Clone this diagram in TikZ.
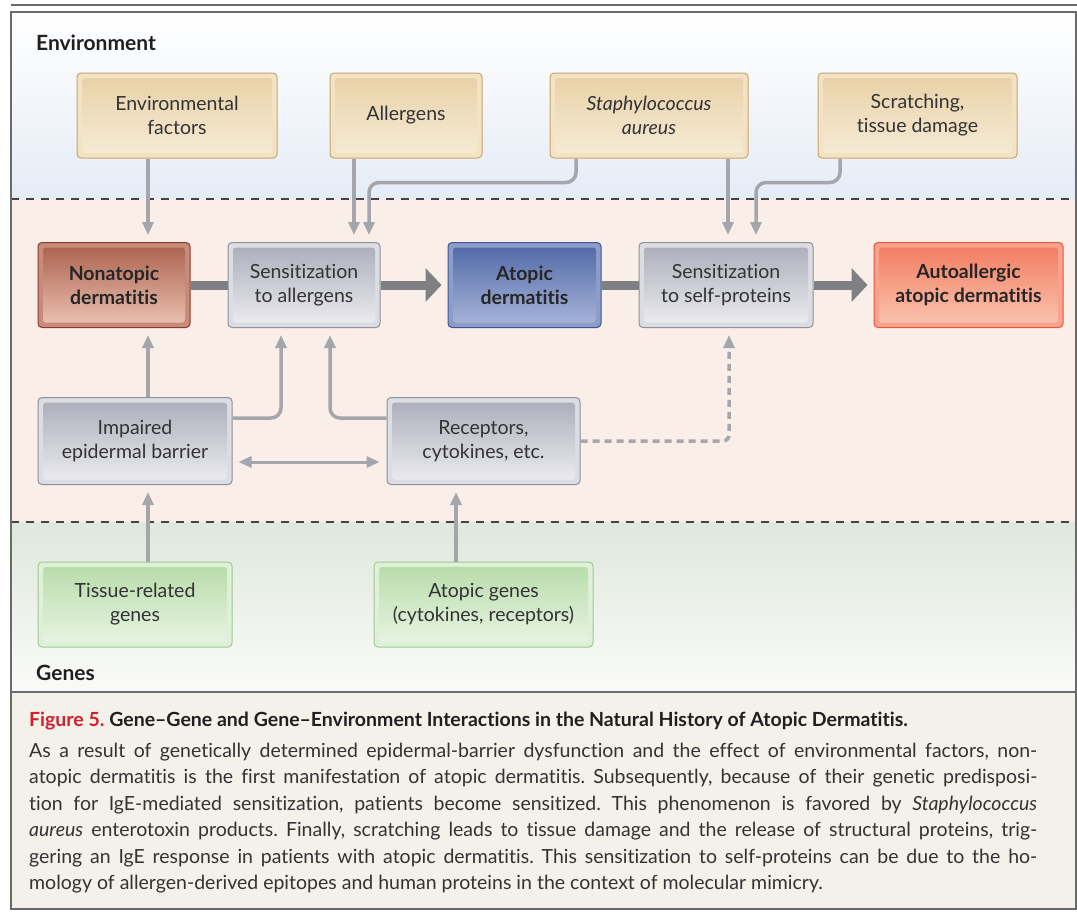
\documentclass[tikz,border=0pt]{standalone}
\usepackage{fontspec}
\setmainfont{Lato}[Ligatures=NoCommon]
\usepackage{xcolor}
\usetikzlibrary{arrows.meta}
\frenchspacing

\definecolor{textgray}{HTML}{333333}
\definecolor{linkgray}{HTML}{A4A6AB}
\definecolor{bargray}{HTML}{7F8083}
\definecolor{framegray}{HTML}{6A6A6A}
\definecolor{dashgray}{HTML}{444444}
\definecolor{envblue}{HTML}{E5ECF6}
\definecolor{midpink}{HTML}{F9EEE8}
\definecolor{genegreen}{HTML}{DEE8DC}
\definecolor{geneend}{HTML}{FAFBF9}
\definecolor{capbeige}{HTML}{F4F1EB}
\definecolor{figred}{HTML}{D0202E}
% box colours: line, outer, inner top, inner bottom
\definecolor{tanline}{HTML}{C9A56B}
\definecolor{tanout}{HTML}{F3E3C4}
\definecolor{tantop}{HTML}{E8D0A5}
\definecolor{tanbot}{HTML}{F6ECD8}
\definecolor{grayline}{HTML}{8D919B}
\definecolor{grayout}{HTML}{DCDDE3}
\definecolor{graytop}{HTML}{A9ACB8}
\definecolor{graybot}{HTML}{EEEEF2}
\definecolor{redline}{HTML}{8A3A2C}
\definecolor{redout}{HTML}{C98B79}
\definecolor{redtop}{HTML}{A95F4C}
\definecolor{redbot}{HTML}{EDC4B4}
\definecolor{blueline}{HTML}{3D5593}
\definecolor{blueout}{HTML}{8C9DC9}
\definecolor{bluetop}{HTML}{4F67A5}
\definecolor{bluebot}{HTML}{AAB7DB}
\definecolor{orline}{HTML}{E8553D}
\definecolor{orout}{HTML}{F9A38D}
\definecolor{ortop}{HTML}{F27A5E}
\definecolor{orbot}{HTML}{FBC6B3}
\definecolor{greenline}{HTML}{9DCB90}
\definecolor{greenout}{HTML}{DEF0D7}
\definecolor{greentop}{HTML}{B6DBA8}
\definecolor{greenbot}{HTML}{EAF5E5}

\newcommand{\boxtextfont}{\fontsize{19.5}{24}\selectfont}
\newcommand{\figcapfont}{\fontsize{19.5}{26.5}\selectfont}

\tikzset{
  boxbase/.style={rounded corners=4pt, line width=1pt, align=center,
    minimum height=85pt, inner sep=0pt, font=\boxtextfont, text=textgray},
  colorbox/.style n args={4}{boxbase, draw=#1, fill=#2,
    path picture={\shade[top color=#3, bottom color=#4, rounded corners=3pt]
      ([shift={(5pt,5pt)}]path picture bounding box.south west) rectangle
      ([shift={(-5pt,-5pt)}]path picture bounding box.north east);}},
  tanbox/.style={colorbox={tanline}{tanout}{tantop}{tanbot}},
  graybox/.style={colorbox={grayline}{grayout}{graytop}{graybot}},
  greenbox/.style={colorbox={greenline}{greenout}{greentop}{greenbot}},
  redbox/.style={colorbox={redline}{redout}{redtop}{redbot}, font=\boxtextfont\bfseries, text=black!85},
  bluebox/.style={colorbox={blueline}{blueout}{bluetop}{bluebot}, font=\boxtextfont\bfseries, text=black!85},
  orangebox/.style={colorbox={orline}{orout}{ortop}{orbot}, font=\boxtextfont\bfseries, text=black!85},
  bandlabel/.style={font=\fontsize{21}{24}\selectfont\bfseries, text=black!88, inner sep=0pt},
  link/.style={draw=linkgray, line width=3.5pt, rounded corners=10pt,
    -{Triangle[length=13pt,width=11pt]}, shorten >=7pt},
  bar/.style={draw=bargray, line width=9pt},
  dashline/.style={draw=dashgray, line width=1.2pt, dash pattern=on 8pt off 7pt}
}

\begin{document}
\begin{tikzpicture}[x=1pt, y=-1pt]
    \useasboundingbox (0,0) rectangle (1077,911);

    % bands
    \shade[top color=white, bottom color=envblue] (11,12) rectangle (1076,199);
    \fill[midpink] (11,199) rectangle (1076,522);
    \shade[top color=genegreen, bottom color=geneend] (11,522) rectangle (1076,692);
    \fill[capbeige] (11,692) rectangle (1076,909);
    \draw[dashline] (11,199) -- (1076,199);
    \draw[dashline] (11,522) -- (1076,522);
    \draw[framegray, line width=1.5pt] (11,5) -- (1077,5);
    \draw[framegray, line width=1.5pt] (1077,12) -- (11,12) -- (11,909) -- (1076,909) -- (1076,12);
    \draw[framegray, line width=1.5pt] (11,692) -- (1076,692);

    \node[bandlabel, anchor=base west] (envlabel) at (36,50) {Environment};
    \node[bandlabel, anchor=base west] (geneslabel) at (36,680) {Genes};

    % environment
    \node[tanbox, minimum width=200pt] (envfac) at (177,115.5) {Environmental\\factors};
    \node[tanbox, minimum width=152pt] (allergens) at (406,115.5) {Allergens};
    \node[tanbox, minimum width=198pt] (staph) at (649,115.5) {\textit{Staphylococcus}\\\textit{aureus}};
    \node[tanbox, minimum width=199pt] (scratch) at (917.5,115.5) {Scratching,\\tissue damage};

    % disease course
    \node[redbox, minimum width=152pt] (nonatopic) at (114,285) {Nonatopic\\dermatitis};
    \node[graybox, minimum width=152pt] (sensall) at (304,285) {Sensitization\\to allergens};
    \node[bluebox, minimum width=153pt] (atopic) at (524.5,285) {Atopic\\dermatitis};
    \node[graybox, minimum width=174pt] (sensself) at (726,285) {Sensitization\\to self-proteins};
    \node[orangebox, minimum width=189pt] (autoall) at (968.5,285) {Autoallergic\\atopic dermatitis};

    \node[graybox, minimum width=194pt, minimum height=87pt] (barrier) at (135,441) {Impaired\\epidermal barrier};
    \node[graybox, minimum width=193pt, minimum height=87pt] (receptors) at (483.5,441) {Receptors,\\cytokines, etc.};

    % genes
    \node[greenbox, minimum width=194pt] (tissue) at (135,604.5) {Tissue-related\\genes};
    \node[greenbox, minimum width=219pt] (atgenes) at (483.5,604.5) {Atopic genes\\(cytokines, receptors)};

    % main course
    \draw[bar] (nonatopic) -- (sensall);
    \draw[bar, -{Triangle[length=16pt,width=33pt]}, shorten >=6pt] (sensall) -- (atopic);
    \draw[bar] (atopic) -- (sensself);
    \draw[bar, -{Triangle[length=16pt,width=33pt]}, shorten >=6pt] (sensself) -- (autoall);

    % influences
    \draw[link] ([xshift=-29pt]envfac.south) -- ([xshift=-29pt]envfac.south |- nonatopic.north);
    \draw[link] ([xshift=-52pt]allergens.south) -- ([xshift=-52pt]allergens.south |- sensall.north);
    \draw[link] ([xshift=-73pt]staph.south) -- ++(0,24) -| ([xshift=65pt]sensall.north);
    \draw[link] ([xshift=79pt]staph.south) -- ([xshift=79pt]staph.south |- sensself.north);
    \draw[link] ([xshift=-77.5pt]scratch.south) -- ++(0,24) -| ([xshift=30pt]sensself.north);

    \draw[link] ([xshift=13pt]barrier.north) -- ([xshift=13pt]barrier.north |- nonatopic.south);
    \draw[link] ([yshift=23pt]barrier.east) -| ([xshift=-23pt]sensall.south);
    \draw[link] ([yshift=23pt]receptors.west) -| ([xshift=26pt]sensall.south);
    \draw[link, line width=3pt, {Triangle[length=13pt,width=11pt]}-{Triangle[length=13pt,width=11pt]}, shorten <=6pt]
        ([yshift=-21pt]barrier.east) -- ([yshift=-21pt]receptors.west);
    \draw[link, dash pattern=on 7pt off 5pt, rounded corners=6pt] (receptors.east) -| ([xshift=3pt]sensself.south);

    \draw[link] ([xshift=13pt]tissue.north) -- ([xshift=13pt]tissue.north |- barrier.south);
    \draw[link] ([xshift=-27.5pt]atgenes.north) -- ([xshift=-27.5pt]atgenes.north |- receptors.south);

    % caption
    \node[anchor=base west, inner sep=0pt, font=\figcapfont\bfseries, text=black!88] (captitle) at (29,726)
        {\textcolor{figred}{Figure 5.} Gene–Gene and Gene–Environment Interactions in the Natural History of Atopic Dermatitis.};
    \node[anchor=base west, inner sep=0pt, text width=1008pt, align=justify, font=\figcapfont, text=textgray] (captext) at (29,757)
        {As a result of genetically determined epidermal-barrier dysfunction and the effect of environmental factors, non-\linebreak
        atopic dermatitis is the first manifestation of atopic dermatitis. Subsequently, because of their genetic predisposi-\linebreak
        tion for IgE-mediated sensitization, patients become sensitized. This phenomenon is favored by \textit{Staphylococcus}\linebreak
        \textit{aureus} enterotoxin products. Finally, scratching leads to tissue damage and the release of structural proteins, trig-\linebreak
        gering an IgE response in patients with atopic dermatitis. This sensitization to self-proteins can be due to the ho-\linebreak
        mology of allergen-derived epitopes and human proteins in the context of molecular mimicry.};
\end{tikzpicture}
\end{document}
